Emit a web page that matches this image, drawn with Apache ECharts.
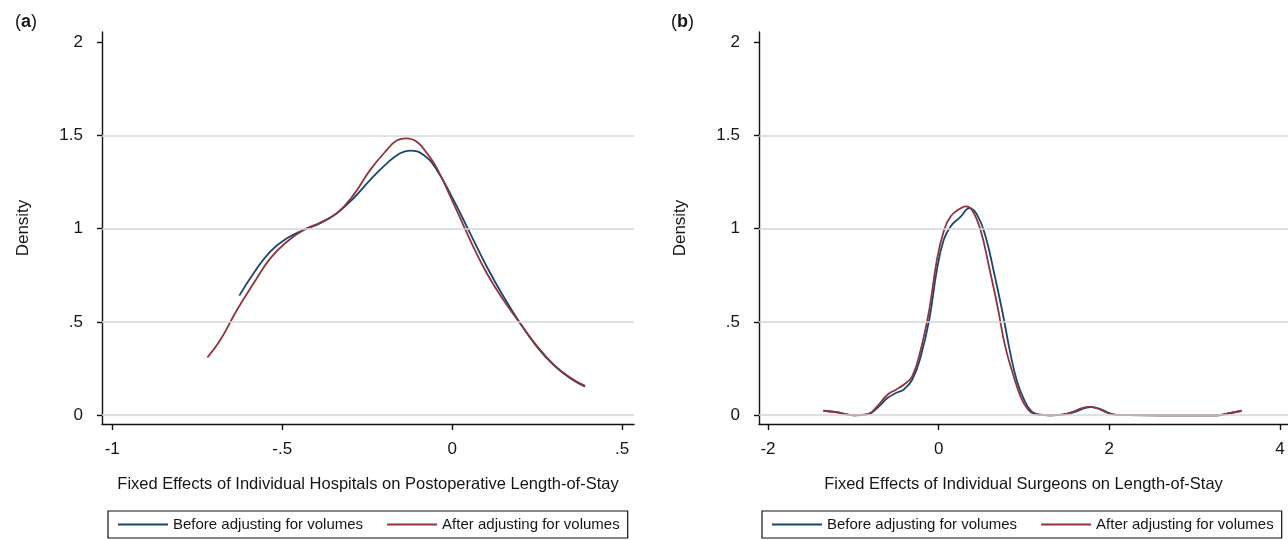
<!DOCTYPE html>
<html>
<head>
<meta charset="utf-8">
<script src="https://cdn.jsdelivr.net/npm/echarts@6/dist/echarts.min.js"></script>
<style>
  html, body { margin: 0; padding: 0; background: #fff; }
  #main { width: 1288px; height: 540px; }
</style>
</head>
<body>
<div id="main"></div>
<script>
// panel (a): hospitals
var hospBeforeX = [-0.626,-0.584,-0.535,-0.486,-0.437,-0.388,-0.339,-0.290,-0.241,-0.192,-0.153,-0.124,-0.084,-0.045,0.004,0.053,0.102,0.151,0.200,0.249,0.298,0.347,0.391];
var hospBeforeY = [0.641,0.761,0.877,0.948,0.993,1.029,1.083,1.163,1.261,1.350,1.404,1.418,1.395,1.315,1.154,0.975,0.796,0.636,0.493,0.368,0.270,0.198,0.153];
var hospAfterX = [-0.720,-0.682,-0.633,-0.584,-0.535,-0.486,-0.437,-0.388,-0.339,-0.290,-0.241,-0.192,-0.163,-0.135,-0.104,-0.074,-0.045,0.004,0.053,0.102,0.151,0.200,0.249,0.298,0.347,0.391];
var hospAfterY = [0.310,0.403,0.564,0.707,0.841,0.930,0.993,1.033,1.083,1.181,1.315,1.422,1.472,1.484,1.466,1.404,1.324,1.136,0.939,0.761,0.618,0.493,0.372,0.273,0.202,0.157];

// panel (b): surgeons
var surgBeforeX = [-1.35,-1.19,-0.99,-0.83,-0.72,-0.60,-0.50,-0.41,-0.31,-0.21,-0.11,-0.02,0.06,0.14,0.26,0.36,0.45,0.55,0.65,0.75,0.84,0.92,1.00,1.08,1.16,1.31,1.45,1.60,1.70,1.78,1.88,2.00,2.10,2.60,3.00,3.26,3.42,3.55];
var surgBeforeY = [0.024,0.016,0.000,0.005,0.039,0.092,0.119,0.137,0.190,0.315,0.512,0.780,0.940,1.012,1.065,1.110,1.075,0.958,0.762,0.548,0.333,0.180,0.085,0.025,0.004,0.000,0.003,0.018,0.036,0.044,0.036,0.012,0.002,0.000,0.000,0.000,0.012,0.024];
var surgAfterX = [-1.35,-1.19,-0.99,-0.83,-0.72,-0.60,-0.50,-0.41,-0.31,-0.21,-0.11,-0.02,0.06,0.14,0.26,0.32,0.39,0.49,0.59,0.69,0.78,0.88,0.96,1.04,1.12,1.30,1.45,1.58,1.68,1.76,1.86,1.98,2.08,2.60,3.00,3.26,3.42,3.55];
var surgAfterY = [0.024,0.016,0.000,0.006,0.048,0.110,0.137,0.163,0.208,0.351,0.565,0.833,0.986,1.065,1.110,1.119,1.101,0.994,0.797,0.583,0.369,0.208,0.100,0.035,0.006,0.000,0.003,0.020,0.038,0.045,0.036,0.012,0.002,0.000,0.000,0.000,0.012,0.024];

var hospTicks = [-1, -0.5, 0, 0.5];
var surgTicks = [-2, 0, 2, 4];
var densityTicks = [0, 0.5, 1, 1.5, 2];
var gridValues = [0, 0.5, 1, 1.5];

var seriesNames = ['Before adjusting for volumes', 'After adjusting for volumes'];
var hospTitle = 'Fixed Effects of Individual Hospitals on Postoperative Length-of-Stay';
var surgTitle = 'Fixed Effects of Individual Surgeons on Length-of-Stay';

var NAVY = '#1a476f', MAROON = '#90353b';
var FONT = '"Liberation Sans", Arial, Helvetica, sans-serif';
var INK = '#161616';

function zip(xs, ys) { return xs.map(function (x, i) { return [x, ys[i]]; }); }
// stata style: .5, -.5
function stataNum(v) {
  if (v === 0) return '0';
  var s = String(Math.abs(v)).replace(/^0\./, '.');
  return (v < 0 ? '-' : '') + s;
}

function xAxisFor(idx, min, max, ticks, name) {
  return {
    type: 'value', gridIndex: idx, min: min, max: max,
    name: name, nameLocation: 'middle', nameGap: 52,
    nameTextStyle: { fontFamily: FONT, fontSize: 16.5, color: INK },
    axisLine: { show: true, onZero: false, lineStyle: { color: '#111', width: 1.4 } },
    axisTick: { show: true, length: 6, customValues: ticks, lineStyle: { color: '#111', width: 1.4 } },
    axisLabel: { customValues: ticks, margin: 17, fontFamily: FONT, fontSize: 17, color: INK, formatter: stataNum },
    splitLine: { show: false }
  };
}
function yAxisFor(idx) {
  return {
    type: 'value', gridIndex: idx, min: -0.047, max: 2.054,
    name: 'Density', nameLocation: 'middle', nameGap: 70, nameRotate: 90,
    nameTextStyle: { fontFamily: FONT, fontSize: 17, color: INK },
    axisLine: { show: true, onZero: false, lineStyle: { color: '#111', width: 1.4 } },
    axisTick: { show: true, length: 5, customValues: densityTicks, lineStyle: { color: '#111', width: 1.4 } },
    axisLabel: { customValues: densityTicks, margin: 19, fontFamily: FONT, fontSize: 17, color: INK, formatter: stataNum },
    splitLine: { show: false }
  };
}
function gridLines(xi, yi) {
  return {
    type: 'line', xAxisIndex: xi, yAxisIndex: yi, data: [], z: 1, silent: true,
    markLine: {
      silent: true, symbol: 'none', label: { show: false },
      lineStyle: { color: '#d3d7db', width: 1.6, type: 'solid' },
      data: gridValues.map(function (v) { return { yAxis: v }; })
    }
  };
}
function curve(name, data, color, xi, z) {
  return {
    name: name, type: 'line', xAxisIndex: xi, yAxisIndex: xi, data: data,
    smooth: 0.45, symbol: 'none', z: z,
    lineStyle: { color: color, width: 1.8 }, itemStyle: { color: color }
  };
}
function legendFor(left) {
  return {
    data: seriesNames, left: left, top: 511, orient: 'horizontal',
    icon: 'rect', itemWidth: 50, itemHeight: 1.8, itemGap: 24,
    padding: [6, 8, 6, 10], borderColor: '#111', borderWidth: 1.2,
    textStyle: { fontFamily: FONT, fontSize: 15, color: INK },
    selectedMode: false
  };
}

var chart = echarts.init(document.getElementById('main'));
chart.setOption({
  backgroundColor: '#fff',
  animation: false,
  title: [
    { text: '({b|a})', left: 10, top: 8, textStyle: { fontFamily: FONT, fontSize: 18, fontWeight: 'normal', color: INK, rich: { b: { fontFamily: FONT, fontSize: 18, fontWeight: 'bold', color: INK } } } },
    { text: '({b|b})', left: 666, top: 8, textStyle: { fontFamily: FONT, fontSize: 18, fontWeight: 'normal', color: INK, rich: { b: { fontFamily: FONT, fontSize: 18, fontWeight: 'bold', color: INK } } } }
  ],
  grid: [
    { left: 102, top: 32, width: 532, height: 392 },
    { left: 759, top: 32, width: 529, height: 392 }
  ],
  xAxis: [
    xAxisFor(0, -1.03, 0.535, hospTicks, hospTitle),
    xAxisFor(1, -2.105, 4.094, surgTicks, surgTitle)
  ],
  yAxis: [yAxisFor(0), yAxisFor(1)],
  legend: [legendFor(108), legendFor(762)],
  series: [
    gridLines(0, 0),
    gridLines(1, 1),
    curve(seriesNames[0], zip(hospBeforeX, hospBeforeY), NAVY, 0, 3),
    curve(seriesNames[1], zip(hospAfterX, hospAfterY), MAROON, 0, 4),
    curve(seriesNames[0], zip(surgBeforeX, surgBeforeY), NAVY, 1, 3),
    curve(seriesNames[1], zip(surgAfterX, surgAfterY), MAROON, 1, 4)
  ]
});
</script>
</body>
</html>
